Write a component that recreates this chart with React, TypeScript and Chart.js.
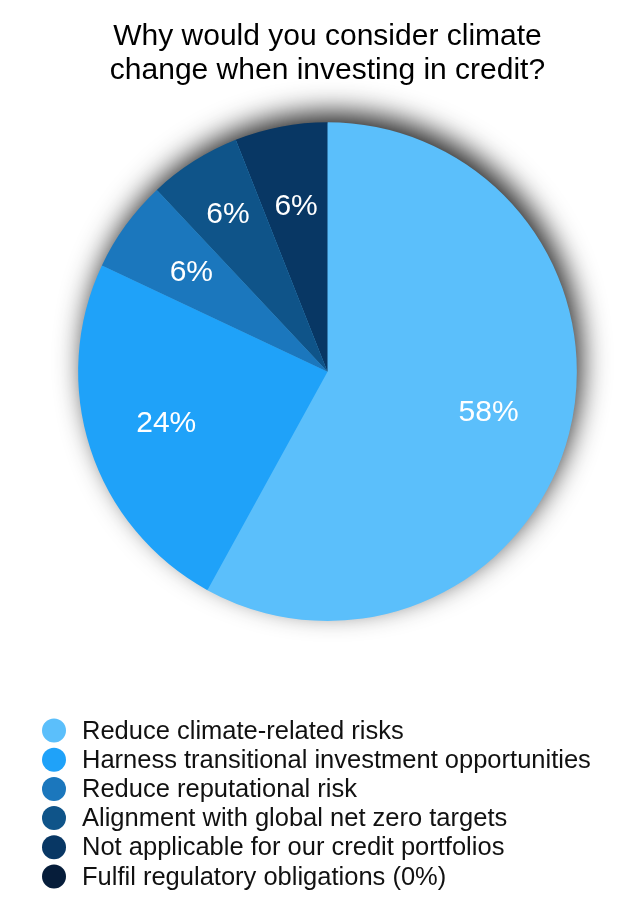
import React, { useEffect, useRef } from "react";
import { Chart, registerables } from "chart.js";

Chart.register(...registerables);

const titleLines = ["Why would you consider climate", "change when investing in credit?"];
const categories = [
  "Reduce climate-related risks",
  "Harness transitional investment opportunities",
  "Reduce reputational risk",
  "Alignment with global net zero targets",
  "Not applicable for our credit portfolios",
  "Fulfil regulatory obligations (0%)",
];
const values = [58, 24, 6, 6, 6, 0];
const sliceLabels = ["58%", "24%", "6%", "6%", "6%", ""];
const colors = ["#5BBFFB", "#1FA2F9", "#1B77BD", "#0F5489", "#083764", "#061D3A"];
const labelRadiusFactor = [0.667, 0.68, 0.675, 0.745, 0.673, 0.67];

const FONT = '"Liberation Sans", Arial, Helvetica, sans-serif';

const shadowPlugin = {
  id: "pieShadow",
  beforeDatasetsDraw(chart: any) {
    const meta = chart.getDatasetMeta(0);
    const arc = meta.data[0];
    if (!arc) return;
    const { x, y, outerRadius } = arc.getProps(["x", "y", "outerRadius"], true);
    const ctx = chart.ctx;
    ctx.save();
    ctx.shadowColor = "rgba(0,0,0,0.85)";
    ctx.shadowBlur = 28;
    ctx.shadowOffsetX = 5;
    ctx.shadowOffsetY = -11;
    ctx.fillStyle = "#5BBFFB";
    ctx.beginPath();
    ctx.arc(x, y, outerRadius - 1, 0, Math.PI * 2);
    ctx.fill();
    ctx.restore();
  },
};

const sliceLabelPlugin = {
  id: "sliceLabels",
  afterDatasetsDraw(chart: any) {
    const meta = chart.getDatasetMeta(0);
    const ctx = chart.ctx;
    ctx.save();
    ctx.fillStyle = "#ffffff";
    ctx.font = `30px ${FONT}`;
    ctx.textAlign = "center";
    ctx.textBaseline = "middle";
    meta.data.forEach((arc: any, i: number) => {
      const text = sliceLabels[i];
      if (!text) return;
      const { x, y, startAngle, endAngle, outerRadius } = arc.getProps(
        ["x", "y", "startAngle", "endAngle", "outerRadius"],
        true
      );
      const mid = (startAngle + endAngle) / 2;
      const r = outerRadius * labelRadiusFactor[i];
      ctx.fillText(text, x + Math.cos(mid) * r, y + Math.sin(mid) * r);
    });
    ctx.restore();
  },
};

const legendPlugin = {
  id: "listLegend",
  afterDraw(chart: any) {
    const ctx = chart.ctx;
    const top = chart.chartArea.bottom + 109.5;
    const step = 29.2;
    ctx.save();
    ctx.font = `25.5px ${FONT}`;
    ctx.textAlign = "left";
    ctx.textBaseline = "middle";
    categories.forEach((label, i) => {
      const cy = top + i * step;
      ctx.fillStyle = colors[i];
      ctx.beginPath();
      ctx.arc(54, cy, 12, 0, Math.PI * 2);
      ctx.fill();
      ctx.fillStyle = "#111111";
      ctx.fillText(label, 82, cy + 1);
    });
    ctx.restore();
  },
};

export default function App() {
  const canvasRef = useRef<HTMLCanvasElement | null>(null);

  useEffect(() => {
    if (!canvasRef.current) return;
    const chart = new Chart(canvasRef.current, {
      type: "pie",
      data: {
        labels: categories,
        datasets: [
          {
            data: values,
            backgroundColor: colors,
            borderWidth: 0,
          },
        ],
      },
      options: {
        responsive: false,
        animation: false,
        maintainAspectRatio: false,
        layout: { padding: { top: 0, left: 17, right: 0, bottom: 293 } },
        plugins: {
          legend: { display: false },
          tooltip: { enabled: false },
          title: {
            display: true,
            text: titleLines,
            color: "#000000",
            font: { family: FONT, size: 30, weight: "normal", lineHeight: 1.13 },
            padding: { top: 19.5, bottom: 35 },
          },
        },
      },
      plugins: [shadowPlugin, sliceLabelPlugin, legendPlugin],
    });
    return () => chart.destroy();
  }, []);

  return (
    <div style={{ position: "fixed", left: 0, top: 0, width: 638, height: 914, background: "#ffffff" }}>
      <canvas ref={canvasRef} width={638} height={914} style={{ display: "block", width: 638, height: 914 }} />
    </div>
  );
}
